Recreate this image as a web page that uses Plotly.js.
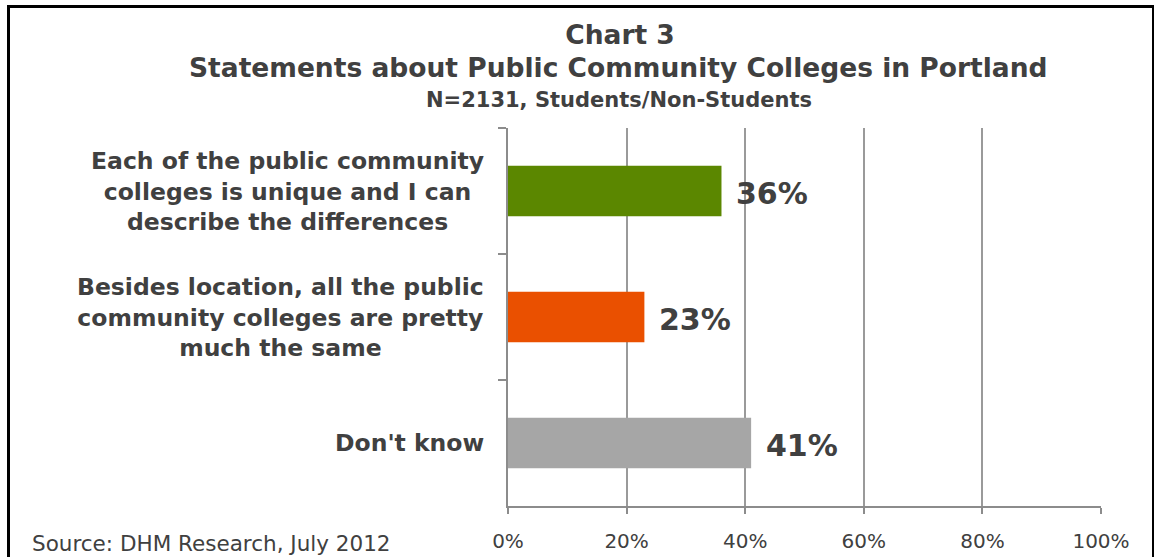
<!DOCTYPE html>
<html>
<head>
<meta charset="utf-8">
<script src="https://cdn.plot.ly/plotly-3.0.1.min.js"></script>
<style>
html,body{margin:0;padding:0;background:#fff;overflow:hidden;}
#frame{position:absolute;left:7px;top:5px;width:1147px;height:600px;border-left:3px solid #000;border-top:3px solid #000;border-right:2px solid #000;box-sizing:border-box;pointer-events:none;z-index:5;}
#chart{position:absolute;left:0;top:0;width:1154px;height:557px;}
</style>
</head>
<body>
<div id="chart"></div>
<div id="frame"></div>
<script>
// Data
const categories = [
  "Each of the public community<br>colleges is unique and I can<br>describe the differences",
  "Besides location, all the public<br>community colleges are pretty<br>much the same",
  "Don't know"
];
const values = [36, 23, 41];
const barColors = ["#5B8700", "#EA5000", "#A6A6A6"];
const tickVals = [0, 20, 40, 60, 80, 100];
const tickText = ["0%", "20%", "40%", "60%", "80%", "100%"];
const titleLine1 = "Chart 3";
const titleLine2 = "Statements about Public Community Colleges in Portland";
const subtitle = "N=2131, Students/Non-Students";
const source = "Source: DHM Research, July 2012";

const FONT = "DejaVu Sans, Verdana, sans-serif";
const TXT = "#404040";

const trace = {
  type: "bar",
  orientation: "h",
  y: categories,
  x: values,
  width: 0.4,
  marker: {color: barColors},
  hoverinfo: "none"
};

const annotations = [];
// category labels (centered multi-line, right-anchored)
categories.forEach((c) => {
  annotations.push({
    xref: "paper", yref: "y", x: 0, y: c,
    xanchor: "right", yanchor: "middle", xshift: -22,
    text: "<b>" + c + "</b>", showarrow: false, align: "center",
    font: {family: FONT, size: 23.5, color: TXT}
  });
});
// value labels
categories.forEach((c, i) => {
  annotations.push({
    xref: "x", yref: "y", x: values[i], y: c,
    xanchor: "left", yanchor: "middle", xshift: 13, yshift: -2,
    text: "<b>" + values[i] + "%</b>", showarrow: false,
    font: {family: FONT, size: 30, color: TXT}
  });
});
// title lines
annotations.push({
  xref: "paper", yref: "paper", x: 0.187, y: 1.159,
  xanchor: "center", yanchor: "middle",
  text: "<b>" + titleLine2 + "</b>", showarrow: false,
  font: {family: FONT, size: 26.5, color: TXT}
});
annotations.push({
  xref: "paper", yref: "paper", x: 0.187, y: 1.074,
  xanchor: "center", yanchor: "middle",
  text: "<b>" + subtitle + "</b>", showarrow: false,
  font: {family: FONT, size: 21, color: TXT}
});
annotations.push({
  xref: "paper", yref: "paper", x: -0.806, y: -0.098,
  xanchor: "left", yanchor: "middle",
  text: source, showarrow: false,
  font: {family: FONT, size: 21.5, color: TXT}
});

const layout = {
  width: 1154, height: 557,
  margin: {l: 508, r: 53, t: 128, b: 51, pad: 0},
  paper_bgcolor: "#fff", plot_bgcolor: "#fff",
  showlegend: false,
  title: {
    text: "<b>" + titleLine1 + "</b>",
    x: 620 / 1154, xref: "container", xanchor: "center",
    y: 1 - 35 / 557, yref: "container", yanchor: "middle",
    font: {family: FONT, size: 26.5, color: TXT}
  },
  xaxis: {
    range: [0, 100], fixedrange: true,
    tickvals: tickVals, ticktext: tickText,
    showgrid: true, gridcolor: "#9A9A9A", gridwidth: 2,
    showline: true, linecolor: "#8C8C8C", linewidth: 2,
    ticks: "outside", ticklen: 6, tickcolor: "#8C8C8C", tickwidth: 2,
    ticklabelstandoff: 10,
    zeroline: false,
    tickfont: {family: FONT, size: 20, color: TXT}
  },
  yaxis: {
    type: "category", autorange: "reversed", fixedrange: true,
    showticklabels: false,
    showline: true, linecolor: "#8C8C8C", linewidth: 2,
    ticks: "outside", tickson: "boundaries", ticklen: 8, tickcolor: "#8C8C8C", tickwidth: 2,
    showgrid: false, zeroline: false
  },
  annotations: annotations
};

Plotly.newPlot("chart", [trace], layout, {displayModeBar: false, staticPlot: true});
</script>
</body>
</html>
